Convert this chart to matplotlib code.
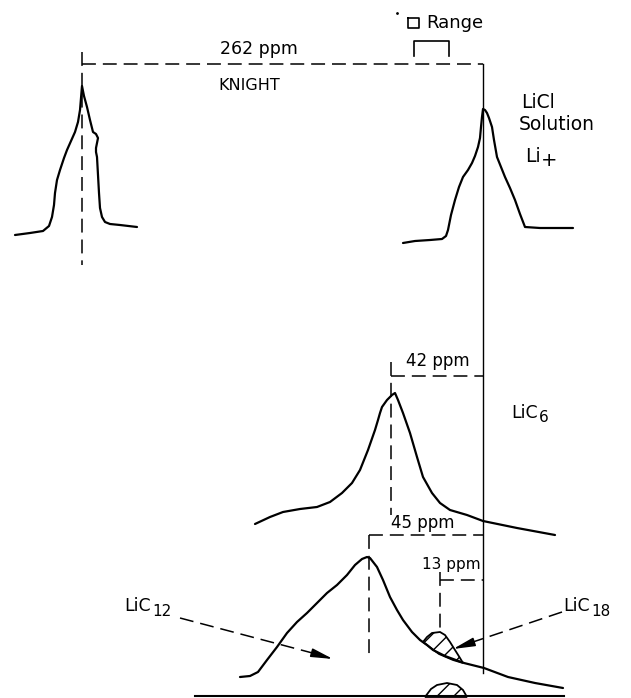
import matplotlib
matplotlib.use("Agg")
import matplotlib.pyplot as plt

plt.rcParams['font.family'] = ['DejaVu Sans']
plt.rcParams['lines.scale_dashes'] = False
plt.rcParams['hatch.linewidth'] = 1.0

# ---- spectra traces (page coordinates) ----
knight_x = [15, 30, 43, 49, 52, 54, 55, 57, 60, 64, 67, 71, 75, 78, 80, 81, 82, 84, 87, 90, 93, 96, 98, 97, 96, 96, 97, 98, 99, 100, 102, 105, 110, 120, 137]
knight_y = [235, 233, 231, 226, 217, 205, 193, 180, 170, 158, 150, 141, 132, 122, 110, 98, 86, 96, 107, 120, 132, 134, 138, 143, 148, 152, 157, 175, 193, 208, 217, 222, 224, 225, 227]

licl_x = [403, 415, 430, 442, 446, 448, 451, 455, 459, 463, 468, 472, 475, 478, 480, 481, 482, 483, 485, 487, 489, 492, 494, 497, 501, 505, 510, 515, 520, 525, 540, 573]
licl_y = [243, 241, 240, 239, 236, 230, 215, 200, 187, 177, 170, 163, 156, 147, 138, 127, 117, 109, 110, 113, 118, 127, 140, 157, 167, 177, 188, 200, 214, 227, 228, 228]

lic6_x = [255, 270, 283, 300, 317, 330, 342, 352, 360, 368, 375, 378, 380, 382, 387, 392, 395, 398, 403, 410, 417, 423, 432, 440, 450, 467, 483, 517, 555]
lic6_y = [524, 517, 512, 509, 507, 502, 493, 483, 470, 450, 430, 420, 413, 407, 400, 395, 393, 400, 413, 433, 457, 477, 493, 503, 510, 515, 521, 528, 535]

lic12_x = [240, 250, 258, 267, 277, 287, 297, 307, 317, 327, 337, 347, 355, 362, 367, 370, 377, 383, 390, 397, 403, 412, 420, 427, 433, 445, 464, 484, 508, 535, 563]
lic12_y = [677, 676, 672, 660, 647, 633, 622, 613, 603, 593, 585, 575, 565, 559, 557, 558, 567, 580, 597, 610, 620, 632, 640, 645, 650, 656, 663, 668, 677, 683, 688]

lic18_x = [423, 427, 432, 440, 445, 450, 455, 460, 463, 453, 439, 423]
lic18_y = [642, 637, 633, 632, 635, 642, 650, 658, 663, 660, 654, 642]

blob_x = [425, 431, 437, 447, 457, 463, 467]
blob_y = [697, 689, 685, 683, 685, 690, 697]

# ---- shift markers ----
ref_x = 483            # LiCl reference line
shift_labels = ["262 ppm", "42 ppm", "45 ppm", "13 ppm"]
shift_from_x = [82, 391, 369, 440]
shift_y = [64, 376, 535, 580]

fig = plt.figure(figsize=(6.31, 6.98), dpi=100)
ax = fig.add_axes([0, 0, 1, 1])
ax.set_xlim(0, 631)
ax.set_ylim(698, 0)
ax.axis('off')

curve_kw = dict(color='black', lw=1.6, solid_joinstyle='round', solid_capstyle='round')
dash = (0, (10, 5))
dash_kw = dict(color='black', lw=1.1, linestyle=dash)

# curves
ax.plot(knight_x, knight_y, **curve_kw)
ax.plot(licl_x, licl_y, **curve_kw)
ax.plot(lic6_x, lic6_y, **curve_kw)
ax.plot(lic12_x, lic12_y, **curve_kw)
ax.fill(lic18_x, lic18_y, facecolor='none', edgecolor='black', lw=1.3, hatch='//')
ax.fill(blob_x, blob_y, facecolor='none', edgecolor='black', lw=1.3, hatch='//')

# reference solid line
ax.plot([ref_x, ref_x], [64, 673], color='black', lw=1.0)
# bottom baseline
ax.plot([195, 564], [696, 696], color='black', lw=1.5)

# dashed vertical markers
ax.plot([82, 82], [52, 265], **dash_kw)
ax.plot([391, 391], [362, 515], **dash_kw)
ax.plot([369, 369], [535, 658], **dash_kw)
ax.plot([440, 440], [572, 628], **dash_kw)

# dashed horizontal shift lines
for xs, ys in zip(shift_from_x, shift_y):
    ax.plot([xs, ref_x], [ys, ys], **dash_kw)

# shift labels
txt = dict(ha='center', va='center', color='black')
ax.text(259, 49, shift_labels[0], fontsize=12.5, **txt)
ax.text(438, 361, shift_labels[1], fontsize=12, **txt)
ax.text(423, 523, shift_labels[2], fontsize=12, **txt)
ax.text(451, 565, shift_labels[3], fontsize=11, **txt)

ax.text(249, 86, "KNIGHT", fontsize=11.5, **txt)

# range indicator
ax.plot([408, 419, 419, 408, 408], [18, 18, 28, 28, 18], color='black', lw=1.2)
ax.text(426, 23, "Range", fontsize=13, ha='left', va='center')
ax.plot([414, 414, 449, 449], [56, 41, 41, 56], color='black', lw=1.2)
ax.plot([397], [13], marker='o', ms=1, color='black')

# species labels
lab = dict(ha='left', va='center', color='black')
ax.text(521, 102, "LiCl", fontsize=13.5, **lab)
ax.text(519, 124, "Solution", fontsize=13.5, **lab)
ax.text(525, 157, "Li", fontsize=13.5, **lab)
ax.text(541, 161, "+", fontsize=14, **lab)
ax.text(511, 413, "LiC", fontsize=12.5, **lab)
ax.text(539, 418, "6", fontsize=11, **lab)
ax.text(124, 606, "LiC", fontsize=12.5, **lab)
ax.text(152, 611, "12", fontsize=11, **lab)
ax.text(563, 606, "LiC", fontsize=12.5, **lab)
ax.text(591, 611, "18", fontsize=11, **lab)

# pointer arrows
arrow_kw = dict(arrowstyle='-|>,head_length=1.1,head_width=0.22', color='black', lw=1.1,
                shrinkA=0, shrinkB=0, mutation_scale=12)
ax.plot([180, 320], [618, 655], **dash_kw)
ax.annotate('', xy=(333, 659), xytext=(316, 654), arrowprops=arrow_kw)
ax.plot([562, 464], [612, 645], **dash_kw)
ax.annotate('', xy=(453, 649), xytext=(468, 644), arrowprops=arrow_kw)

fig.savefig("out.png", dpi=100)
